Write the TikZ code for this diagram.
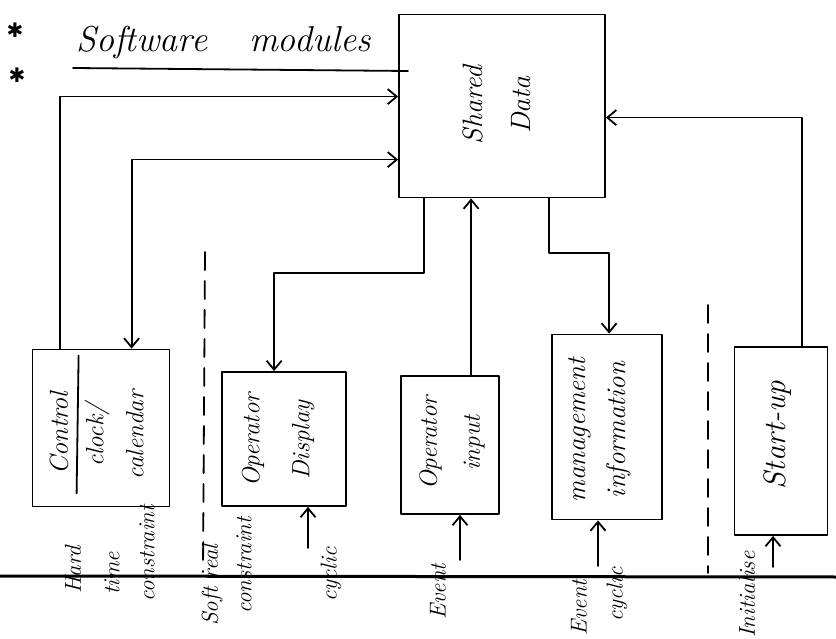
\documentclass[tikz,border=0pt]{standalone}
\usepackage{fontspec}
\newfontfamily\markfont{DejaVu Sans}
\usetikzlibrary{arrows.meta,calc}
\begin{document}
\begin{tikzpicture}[x=1pt,y=-1pt,
  pen/.style={line width=1.8pt, line cap=round, line join=round},
  barb/.tip={Straight Barb[length=9pt,width=15pt,line width=1.8pt]},
  flow/.style={pen, -barb},
  twoway/.style={pen, barb-barb},
  module/.style={pen, draw, rectangle, inner sep=0pt},
  boxtext/.style={rotate=90, align=center, inner sep=0pt,
    font=\fontsize{26}{44}\selectfont\itshape},
  note/.style={rotate=90, anchor=west, inner sep=0pt,
    font=\fontsize{23}{26}\selectfont\itshape},
  divider/.style={pen, dash pattern=on 18pt off 11pt},
  bullet/.style={inner sep=0pt, font=\fontsize{20}{20}\selectfont\markfont}
]
\useasboundingbox (0,0) rectangle (836,639);

% heading
\node[bullet] (star1) at (15,30) {✱};
\node[bullet] (star2) at (17,75) {✱};
\node[anchor=base west, inner sep=0pt, font=\fontsize{36}{40}\selectfont\itshape]
  (title) at (76,52) {Software\hspace{42pt}modules};
\draw[pen] (73,68) -- (408,71);

% modules
\node[module, minimum width=206pt, minimum height=183pt] (shared) at (502,106) {};
\node[module, minimum width=137pt, minimum height=157pt] (ctrl) at (101,428) {};
\node[module, minimum width=124pt, minimum height=134pt] (disp) at (284,439) {};
\node[module, minimum width=98pt, minimum height=138pt] (input) at (450,445) {};
\node[module, minimum width=110pt, minimum height=185pt] (mgmt) at (607,427) {};
\node[module, minimum width=93pt, minimum height=188pt] (start) at (781,441) {};

% module captions
\node[boxtext, font=\fontsize{28}{48}\selectfont\itshape] (sharedtxt) at (497,105) {Shared\\Data};
\node[boxtext] (ctrltxt) at (59,433) {Control};
\draw[pen] ($(ctrl.north west)+(47,7)$) -- ($(ctrl.south west)+(45,-14)$);
\node[boxtext, font=\fontsize{25}{40}\selectfont\itshape] (clocktxt) at (114,435) {clock/\\calendar};
\node[boxtext, font=\fontsize{25}{50}\selectfont\itshape] (disptxt) at (278,440) {Operator\\Display};
\node[boxtext, font=\fontsize{25}{43}\selectfont\itshape] (inputtxt) at (452,443) {Operator\\input};
\node[boxtext, font=\fontsize{27}{40}\selectfont\itshape] (mgmttxt) at (600,430) {management\\information};
\node[boxtext, font=\fontsize{31}{40}\selectfont\itshape] (starttxt) at (778,435) {Start-up};

% data flows to and from the shared data
\draw[flow] ($(ctrl.north west)+(28,0)$) |- ($(shared.north west)+(0,83)$);
\draw[twoway] ($(ctrl.north west)+(100,0)$) |- ($(shared.north west)+(0,146)$);
\draw[flow] ($(shared.south west)+(26,0)$) -- ++(0,75) -| ($(disp.north west)+(53,0)$);
\draw[flow] ($(input.north west)+(71,0)$) coordinate (inp) -- (inp |- shared.south);
\draw[flow] ($(shared.south west)+(151,0)$) -- ++(0,55) -| ($(mgmt.north west)+(58,0)$);
\draw[flow] ($(start.north west)+(68,0)$) |- ($(shared.north east)+(0,104)$);

% dashed separators and time line
\draw[divider] (205,252) -- (203,572);
\draw[divider] (708,305) -- (708,573);
\draw[line width=3pt] (0,576) -- (836,577);

% timing notes
\node[note] (hard1) at (73,594) {Hard};
\node[note] (hard2) at (112,595) {time};
\node[note] (hard3) at (147,602) {constraint};
\node[note] (soft1) at (212,626) {Soft real};
\node[note] (soft2) at (244,614) {constraint};
\node[note] (cyc1) at (331,602) {cyclic};
\coordinate (cycarrow) at (308,548);
\draw[flow] (cycarrow) -- (cycarrow |- disp.south);
\node[note] (ev1) at (438,620) {Event};
\coordinate (evarrow) at (460,560);
\draw[flow] (evarrow) -- (evarrow |- input.south);
\node[note] (ev2) at (579,636) {Event};
\node[note] (cyc2) at (617,622) {cyclic};
\coordinate (mgarrow) at (598,566);
\draw[flow] (mgarrow) -- (mgarrow |- mgmt.south);
\node[note] (init) at (747,638) {Initialise};
\coordinate (starrow) at (773,567);
\draw[flow] (starrow) -- (starrow |- start.south);
\end{tikzpicture}
\end{document}
